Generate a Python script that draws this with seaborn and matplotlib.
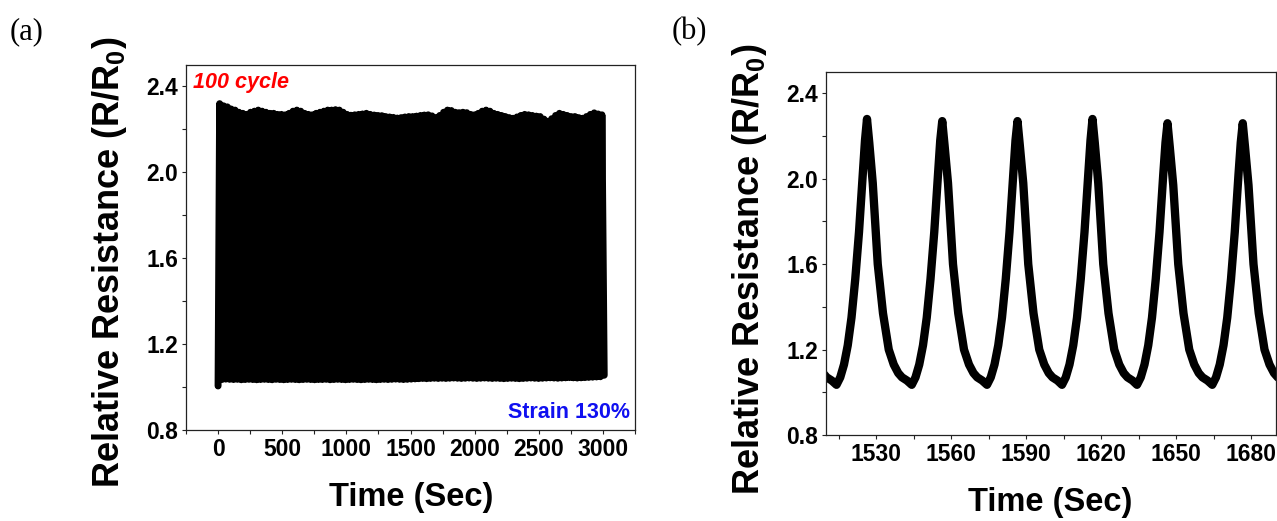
import numpy as np
import pandas as pd
import matplotlib
matplotlib.use("Agg")
import matplotlib.pyplot as plt
from matplotlib.ticker import MultipleLocator, FormatStrFormatter
import seaborn as sns

# ---------------- data ----------------
# Panel (a): 100 stretch/release cycles at 130 % strain
cycle_period_s = 30.1
rise_time_s = 12.2
peak_values_a = [
    2.32, 2.31, 2.305, 2.295, 2.29, 2.28, 2.275, 2.27, 2.28, 2.285,
    2.29, 2.285, 2.28, 2.275, 2.275, 2.27, 2.27, 2.268, 2.275, 2.285,
    2.29, 2.285, 2.275, 2.27, 2.268, 2.275, 2.28, 2.285, 2.29, 2.29,
    2.292, 2.29, 2.28, 2.27, 2.266, 2.268, 2.27, 2.272, 2.275, 2.27,
    2.267, 2.265, 2.264, 2.26, 2.258, 2.256, 2.253, 2.255, 2.258, 2.26,
    2.26, 2.262, 2.265, 2.267, 2.268, 2.263, 2.255, 2.265, 2.28, 2.29,
    2.288, 2.28, 2.278, 2.28, 2.278, 2.27, 2.268, 2.275, 2.285, 2.29,
    2.285, 2.275, 2.27, 2.265, 2.26, 2.255, 2.252, 2.258, 2.265, 2.27,
    2.268, 2.265, 2.262, 2.26, 2.248, 2.238, 2.25, 2.265, 2.275, 2.27,
    2.265, 2.26, 2.26, 2.255, 2.252, 2.26, 2.27, 2.277, 2.272, 2.268,
]
valley_values_a = [
    1.005, 1.035, 1.037, 1.036, 1.035, 1.036, 1.034, 1.035, 1.036, 1.035,
    1.034, 1.035, 1.036, 1.035, 1.034, 1.036, 1.035, 1.034, 1.035, 1.036,
    1.035, 1.034, 1.035, 1.036, 1.035, 1.034, 1.035, 1.035, 1.036, 1.034,
    1.035, 1.036, 1.035, 1.034, 1.035, 1.036, 1.035, 1.034, 1.035, 1.036,
    1.035, 1.034, 1.035, 1.036, 1.035, 1.036, 1.037, 1.036, 1.035, 1.036,
    1.037, 1.038, 1.039, 1.040, 1.039, 1.040, 1.041, 1.040, 1.041, 1.040,
    1.041, 1.042, 1.041, 1.040, 1.041, 1.042, 1.041, 1.040, 1.041, 1.042,
    1.041, 1.040, 1.041, 1.040, 1.039, 1.040, 1.041, 1.040, 1.039, 1.040,
    1.041, 1.042, 1.041, 1.040, 1.041, 1.042, 1.043, 1.042, 1.041, 1.042,
    1.043, 1.044, 1.043, 1.042, 1.043, 1.044, 1.045, 1.046, 1.047, 1.048,
    1.055,
]

# Panel (b): zoom on six cycles
time_b = [
    1508.8, 1510.3, 1512.3,
    1514.2, 1515.7, 1517.2, 1518.7, 1520.2, 1521.7, 1523.2, 1524.7, 1525.6, 1526.4,
    1527.3, 1528.7, 1530.7, 1532.8, 1535.1, 1537.1, 1538.9, 1540.4, 1542.4,
    1544.3, 1545.8, 1547.3, 1548.8, 1550.3, 1551.8, 1553.3, 1554.8, 1555.7, 1556.5,
    1557.4, 1558.8, 1560.8, 1562.9, 1565.2, 1567.2, 1569.0, 1570.5, 1572.5,
    1574.4, 1575.9, 1577.4, 1578.9, 1580.4, 1581.9, 1583.4, 1584.9, 1585.8, 1586.6,
    1587.5, 1588.9, 1590.9, 1593.0, 1595.3, 1597.3, 1599.1, 1600.6, 1602.6,
    1604.4, 1605.9, 1607.4, 1608.9, 1610.4, 1611.9, 1613.4, 1614.9, 1615.8, 1616.6,
    1617.5, 1618.9, 1620.9, 1623.0, 1625.3, 1627.3, 1629.1, 1630.6, 1632.6,
    1634.4, 1635.9, 1637.4, 1638.9, 1640.4, 1641.9, 1643.4, 1644.9, 1645.8, 1646.6,
    1647.5, 1648.9, 1650.9, 1653.0, 1655.3, 1657.3, 1659.1, 1660.6, 1662.6,
    1664.5, 1666.0, 1667.5, 1669.0, 1670.5, 1672.0, 1673.5, 1675.0, 1675.9, 1676.7,
    1677.6, 1679.0, 1681.0, 1683.1, 1685.4, 1687.4, 1689.2, 1690.7, 1692.7,
]
resistance_b = [
    1.09, 1.07, 1.055,
    1.035, 1.07, 1.13, 1.22, 1.35, 1.53, 1.75, 2.02, 2.18, 2.28,
    2.17, 1.98, 1.60, 1.37, 1.20, 1.13, 1.09, 1.07, 1.055,
    1.035, 1.07, 1.13, 1.22, 1.35, 1.53, 1.75, 2.02, 2.18, 2.27,
    2.16, 1.98, 1.60, 1.37, 1.20, 1.13, 1.09, 1.07, 1.055,
    1.035, 1.07, 1.13, 1.22, 1.35, 1.53, 1.75, 2.02, 2.18, 2.27,
    2.16, 1.98, 1.60, 1.37, 1.20, 1.13, 1.09, 1.07, 1.055,
    1.035, 1.07, 1.13, 1.22, 1.35, 1.53, 1.75, 2.02, 2.18, 2.28,
    2.17, 1.98, 1.60, 1.37, 1.20, 1.13, 1.09, 1.07, 1.055,
    1.035, 1.07, 1.13, 1.22, 1.35, 1.53, 1.75, 2.02, 2.17, 2.26,
    2.15, 1.97, 1.60, 1.37, 1.20, 1.13, 1.09, 1.07, 1.055,
    1.035, 1.07, 1.13, 1.22, 1.35, 1.53, 1.75, 2.02, 2.17, 2.26,
    2.15, 1.97, 1.60, 1.37, 1.20, 1.13, 1.09, 1.07, 1.055,
]

xticks_a = [0, 500, 1000, 1500, 2000, 2500, 3000]
xticks_b = [1530, 1560, 1590, 1620, 1650, 1680]
yticks = [0.8, 1.2, 1.6, 2.0, 2.4]

# ------------- assemble panel (a) series (valley, peak, valley, ...) -------------
t_a, r_a = [], []
for k, pk in enumerate(peak_values_a):
    t_a += [k * cycle_period_s, k * cycle_period_s + rise_time_s]
    r_a += [valley_values_a[k], pk]
t_a.append(len(peak_values_a) * cycle_period_s)
r_a.append(valley_values_a[-1])
df_a = pd.DataFrame({"Time (Sec)": t_a, "R": r_a})
df_b = pd.DataFrame({"Time (Sec)": time_b, "R": resistance_b})

# ---------------- style ----------------
sns.set_theme(style="ticks")
plt.rcParams["font.family"] = ["Liberation Sans", "DejaVu Sans"]
plt.rcParams["font.weight"] = "bold"
plt.rcParams["text.color"] = "black"
plt.rcParams["axes.labelcolor"] = "black"
plt.rcParams["xtick.color"] = "black"
plt.rcParams["ytick.color"] = "black"
plt.rcParams["mathtext.fontset"] = "custom"
plt.rcParams["mathtext.rm"] = "Liberation Sans:bold"
plt.rcParams["mathtext.it"] = "Liberation Sans:bold"
plt.rcParams["mathtext.bf"] = "Liberation Sans:bold"

W, H = 1277, 521
fig = plt.figure(figsize=(W / 100, H / 100), dpi=100)
ax_a = fig.add_axes([186 / W, (H - 430) / H, 449 / W, 365 / H])
ax_b = fig.add_axes([826 / W, (H - 435) / H, 450 / W, 363 / H])

sns.lineplot(data=df_a, x="Time (Sec)", y="R", ax=ax_a, color="black",
             linewidth=5.0, estimator=None, sort=False)
sns.lineplot(data=df_b, x="Time (Sec)", y="R", ax=ax_b, color="black",
             linewidth=6.0, estimator=None, sort=False)

ylabel = r"Relative Resistance (R/R$_{\mathrm{0}}$)"
for ax, xt, xlim, xminor in [(ax_a, xticks_a, (-250, 3250), 250),
                             (ax_b, xticks_b, (1510, 1690), 15)]:
    ax.set_xlim(*xlim)
    ax.set_ylim(0.8, 2.5)
    ax.set_xticks(xt)
    ax.set_yticks(yticks)
    ax.xaxis.set_minor_locator(MultipleLocator(xminor))
    ax.yaxis.set_minor_locator(MultipleLocator(0.2))
    ax.yaxis.set_major_formatter(FormatStrFormatter("%.1f"))
    ax.tick_params(which="both", direction="out", length=3.2, width=0.8,
                   color="#222222", labelcolor="black", top=False, right=False)
    ax.tick_params(which="major", labelsize=16.5, pad=2.5)
    for lab in ax.get_xticklabels() + ax.get_yticklabels():
        lab.set_fontweight("bold")
    for sp in ax.spines.values():
        sp.set_visible(True)
        sp.set_color("#222222")
        sp.set_linewidth(0.9)
    ax.set_xlabel("Time (Sec)", fontsize=23.5, fontweight="bold", color="black")
    ax.set_ylabel(ylabel, fontsize=26, fontweight="bold", color="black")
    ax.xaxis.label.set_va("center")
    ax.yaxis.label.set_va("center")

ax_a.xaxis.set_label_coords(0.502, -0.186)
ax_a.yaxis.set_label_coords(-0.171, 0.46)
ax_b.xaxis.set_label_coords(0.498, -0.187)
ax_b.yaxis.set_label_coords(-0.171, 0.455)

ax_a.text(0.0156, 0.953, "100 cycle", transform=ax_a.transAxes, color="#ff0000",
          fontsize=15.5, fontweight="bold", fontstyle="italic", ha="left", va="center")
ax_a.text(0.989, 0.048, "Strain 130%", transform=ax_a.transAxes, color="#1010f0",
          fontsize=15.5, fontweight="bold", ha="right", va="center")

fig.text(10 / W, 1 - 32 / H, "(a)", family=["Liberation Serif", "DejaVu Serif"],
         fontsize=22, fontweight="normal", color="black", ha="left", va="center")
fig.text(672 / W, 1 - 32 / H, "(b)", family=["Liberation Serif", "DejaVu Serif"],
         fontsize=22, fontweight="normal", color="black", ha="left", va="center")

fig.savefig("out.png", dpi=100)
